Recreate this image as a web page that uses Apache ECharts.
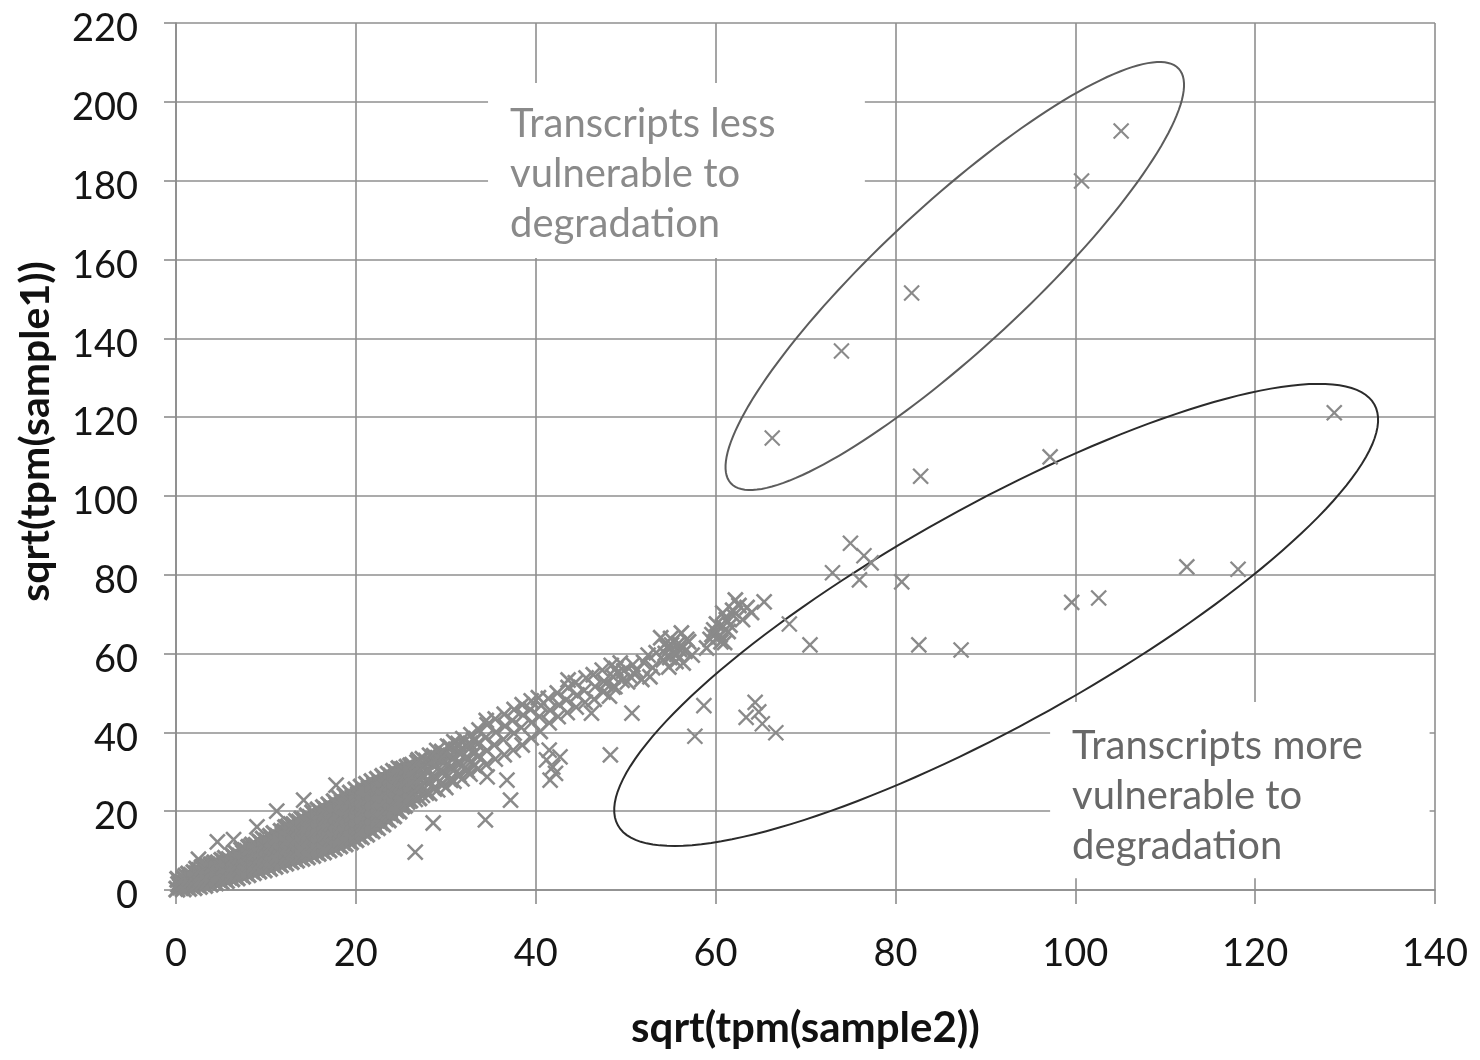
<!DOCTYPE html>
<html><head><meta charset="utf-8">
<script src="https://cdn.jsdelivr.net/npm/echarts@6/dist/echarts.min.js"></script>
<style>html,body{margin:0;padding:0;background:#fff}#c{width:1480px;height:1060px}</style>
</head><body><div id="c"></div>
<script>
const xAxisName = 'sqrt(tpm(sample2))';
const yAxisName = 'sqrt(tpm(sample1))';
const noteLess = 'Transcripts less\nvulnerable to\ndegradation';
const noteMore = 'Transcripts more\nvulnerable to\ndegradation';

// dense core of transcripts (x = sqrt(tpm(sample2)), y = sqrt(tpm(sample1)))
const coreBand = [
[0.1,0.2],[0.3,1.4],[0.2,2.7],
[0.8,0.3],[0.7,1.6],[0.9,2.9],
[1.4,0.4],[1.3,1.7],[1.5,3.0],[1.4,4.0],
[2.0,0.6],[2.1,1.9],[1.9,3.2],[2.0,4.4],
[2.6,0.9],[2.5,2.2],[2.7,3.5],[2.6,4.9],
[3.2,1.2],[3.1,2.5],[3.3,3.8],[3.2,5.2],[3.0,5.8],
[3.8,1.5],[3.9,2.9],[3.7,4.3],[3.8,5.6],[3.9,6.4],
[4.4,1.8],[4.3,3.1],[4.5,4.5],[4.4,5.9],[4.3,6.9],
[5.0,2.1],[5.1,3.5],[4.9,4.9],[5.0,6.3],[5.1,7.5],
[5.6,2.4],[5.5,3.8],[5.7,5.2],[5.6,6.6],[5.5,8.0],
[6.2,2.8],[6.3,4.2],[6.1,5.7],[6.2,7.1],[6.3,8.7],
[6.8,3.1],[6.7,4.6],[6.9,6.0],[6.8,7.5],[6.7,9.3],
[7.4,3.5],[7.5,4.9],[7.3,6.4],[7.4,7.9],[7.5,9.4],[7.3,10.1],
[8.0,3.9],[7.9,5.4],[8.1,6.9],[8.0,8.4],[7.9,9.8],[8.1,10.8],
[8.6,4.4],[8.7,5.8],[8.5,7.3],[8.6,8.8],[8.7,10.3],[8.5,11.4],
[9.2,4.8],[9.1,6.3],[9.3,7.8],[9.2,9.3],[9.1,10.8],[9.3,12.2],
[9.8,5.1],[9.9,6.6],[9.7,8.1],[9.8,9.6],[9.9,11.1],[9.7,12.9],
[10.4,5.5],[10.3,7.0],[10.5,8.6],[10.4,10.1],[10.3,11.6],[10.5,13.6],
[11.0,6.0],[11.1,7.5],[10.9,9.0],[11.0,10.6],[11.1,12.2],[10.9,14.3],
[11.6,6.4],[11.5,7.9],[11.7,9.5],[11.6,11.1],[11.5,12.7],[11.7,14.9],
[12.2,6.8],[12.3,8.4],[12.1,10.0],[12.2,11.6],[12.3,13.2],[12.1,14.8],[12.2,15.8],
[12.8,7.2],[12.7,8.8],[12.9,10.4],[12.8,12.0],[12.7,13.6],[12.9,15.2],[12.8,16.6],
[13.4,7.6],[13.5,9.2],[13.3,10.9],[13.4,12.5],[13.5,14.1],[13.3,15.8],[13.4,17.4],
[14.0,8.0],[13.9,9.6],[14.1,11.3],[14.0,13.0],[13.9,14.7],[14.1,16.4],[14.0,18.0],
[14.6,8.4],[14.7,10.1],[14.5,11.8],[14.6,13.5],[14.7,15.2],[14.5,16.9],[14.6,18.8],
[15.2,8.8],[15.1,10.5],[15.3,12.3],[15.2,14.1],[15.1,15.8],[15.3,17.6],[15.2,19.6],
[15.8,9.3],[15.9,11.0],[15.7,12.8],[15.8,14.6],[15.9,16.4],[15.7,18.2],[15.8,20.3],
[16.4,9.7],[16.3,11.5],[16.5,13.3],[16.4,15.2],[16.3,17.0],[16.5,18.9],[16.4,20.9],
[17.0,10.2],[17.1,12.0],[16.9,13.9],[17.0,15.8],[17.1,17.6],[16.9,19.5],[17.0,21.6],
[17.6,10.6],[17.5,12.5],[17.7,14.4],[17.6,16.3],[17.5,18.2],[17.7,20.1],[17.6,22.4],
[18.2,11.2],[18.3,13.1],[18.1,15.0],[18.2,17.0],[18.3,18.9],[18.1,20.8],[18.2,23.2],
[18.8,11.7],[18.7,13.6],[18.9,15.6],[18.8,17.6],[18.7,19.5],[18.9,21.5],[18.8,23.9],
[19.4,12.2],[19.5,14.2],[19.3,16.2],[19.4,18.2],[19.5,20.2],[19.3,22.2],[19.4,24.6],
[20.0,12.8],[19.9,14.8],[20.1,16.8],[20.0,18.8],[19.9,20.8],[20.1,22.8],[20.0,25.4],
[20.6,13.5],[20.7,15.5],[20.5,17.5],[20.6,19.5],[20.7,21.5],[20.5,23.5],[20.6,26.1],
[21.2,14.2],[21.1,16.2],[21.3,18.2],[21.2,20.2],[21.1,22.3],[21.3,24.4],[21.2,26.8],
[21.8,15.0],[21.9,17.0],[21.7,19.0],[21.8,21.0],[21.9,23.0],[21.7,25.1],[21.8,27.5],
[22.4,15.8],[22.3,17.8],[22.5,19.8],[22.4,21.8],[22.3,23.8],[22.5,25.8],[22.4,28.1],
[23.0,16.7],[23.1,18.7],[22.9,20.7],[23.0,22.7],[23.1,24.7],[22.9,26.7],[23.0,28.8],
[23.6,17.8],[23.5,19.7],[23.7,21.6],[23.6,23.6],[23.5,25.6],[23.7,27.5],[23.6,29.4],
[24.2,18.8],[24.3,20.7],[24.1,22.6],[24.2,24.5],[24.3,26.4],[24.1,28.3],[24.2,30.1],
[24.8,20.0],[24.7,21.8],[24.9,23.7],[24.8,25.5],[24.7,27.4],[24.9,29.3],[24.8,30.8],
[25.4,21.5],[25.5,23.3],[25.3,25.2],[25.4,27.0],[25.5,28.8],[25.3,30.7],
[26.0,22.8],[25.9,24.6],[26.1,26.5],[26.0,28.3],[25.9,30.2],[26.1,31.5]
];

// further transcripts packed between the ones above
const coreFill = [
[0.5,0.8],[0.5,2.0],
[1.1,1.0],[1.1,2.3],[1.1,3.5],
[1.7,1.2],[1.7,2.5],[1.7,3.7],
[2.3,1.4],[2.3,2.8],[2.3,4.1],[2.3,5.3],
[2.9,1.7],[2.9,3.0],[2.9,4.3],[2.9,5.6],
[3.5,2.0],[3.5,3.3],[3.5,4.7],[3.5,6.1],
[4.1,2.3],[4.1,3.7],[4.1,5.1],[4.1,6.4],
[4.7,2.7],[4.7,4.1],[4.7,5.4],[4.7,6.9],
[5.3,3.0],[5.3,4.4],[5.3,5.8],[5.3,7.2],
[5.9,3.3],[5.9,4.8],[5.9,6.2],[5.9,7.7],
[6.5,3.6],[6.5,5.1],[6.5,6.6],[6.5,8.2],
[7.1,4.0],[7.1,5.5],[7.1,7.0],[7.1,8.6],
[7.7,4.4],[7.7,5.9],[7.7,7.4],[7.7,8.9],[7.7,10.0],
[8.3,4.9],[8.3,6.4],[8.3,7.9],[8.3,9.4],[8.3,10.8],
[8.9,5.3],[8.9,6.8],[8.9,8.3],[8.9,9.8],[8.9,11.3],
[9.5,5.7],[9.5,7.2],[9.5,8.7],[9.5,10.2],[9.5,11.8],
[10.1,6.1],[10.1,7.6],[10.1,9.2],[10.1,10.8],[10.1,12.4],
[10.7,6.5],[10.7,8.1],[10.7,9.7],[10.7,11.3],[10.7,13.0],
[11.3,6.9],[11.3,8.5],[11.3,10.1],[11.3,11.8],[11.3,13.6],
[11.9,7.3],[11.9,8.9],[11.9,10.6],[11.9,12.3],[11.9,14.0],
[12.5,7.7],[12.5,9.3],[12.5,11.0],[12.5,12.8],[12.5,14.5],[12.5,16.0],
[13.1,8.1],[13.1,9.8],[13.1,11.5],[13.1,13.2],[13.1,14.9],[13.1,16.6],
[13.7,8.5],[13.7,10.2],[13.7,12.0],[13.7,13.7],[13.7,15.5],[13.7,17.2],
[14.3,8.9],[14.3,10.6],[14.3,12.4],[14.3,14.2],[14.3,16.0],[14.3,17.8],
[14.9,9.3],[14.9,11.1],[14.9,12.9],[14.9,14.7],[14.9,16.5],[14.9,18.4],
[15.5,9.7],[15.5,11.5],[15.5,13.4],[15.5,15.2],[15.5,17.1],[15.5,19.0],
[16.1,10.2],[16.1,12.0],[16.1,13.9],[16.1,15.8],[16.1,17.7],[16.1,19.7],
[16.7,10.6],[16.7,12.5],[16.7,14.4],[16.7,16.3],[16.7,18.3],[16.7,20.3],
[17.3,11.1],[17.3,13.0],[17.3,15.0],[17.3,16.9],[17.3,18.9],[17.3,20.9],
[17.9,11.6],[17.9,13.6],[17.9,15.5],[17.9,17.5],[17.9,19.5],[17.9,21.6],
[18.5,12.1],[18.5,14.1],[18.5,16.1],[18.5,18.1],[18.5,20.1],[18.5,22.2],
[19.1,12.6],[19.1,14.6],[19.1,16.7],[19.1,18.7],[19.1,20.8],[19.1,22.9],
[19.7,13.2],[19.7,15.2],[19.7,17.3],[19.7,19.3],[19.7,21.4],[19.7,23.6],
[20.3,13.8],[20.3,15.9],[20.3,18.0],[20.3,20.0],[20.3,22.1],[20.3,24.2],
[20.9,14.6],[20.9,16.7],[20.9,18.8],[20.9,20.8],[20.9,22.9],[20.9,25.0],
[21.5,15.4],[21.5,17.5],[21.5,19.6],[21.5,21.6],[21.5,23.7],[21.5,25.8],
[22.1,16.2],[22.1,18.3],[22.1,20.3],[22.1,22.3],[22.1,24.4],[22.1,26.5],
[22.7,17.1],[22.7,19.1],[22.7,21.2],[22.7,23.2],[22.7,25.2],[22.7,27.2],
[23.3,18.1],[23.3,20.1],[23.3,22.1],[23.3,24.1],[23.3,26.1],[23.3,28.1],
[23.9,19.1],[23.9,21.0],[23.9,23.0],[23.9,25.0],[23.9,27.0],[23.9,28.9],
[24.5,20.2],[24.5,22.1],[24.5,24.0],[24.5,25.9],[24.5,27.8],[24.5,29.7],
[25.1,21.3],[25.1,23.2],[25.1,25.0],[25.1,26.9],[25.1,28.7],[25.1,30.5],
[25.7,22.5],[25.7,24.3],[25.7,26.1],[25.7,27.9],[25.7,29.6],[25.7,31.2],
[26.3,24.0],[26.3,26.8],[26.3,29.3],[26.3,31.6],
[27.0,23.4],[27.0,25.8],[27.0,28.4],[27.0,30.9],[27.0,32.9],
[27.8,24.8],[27.8,27.6],[27.8,30.2],[27.8,32.7],
[28.7,25.8],[28.7,28.8],[28.7,31.6],[28.7,33.9],
[29.6,27.0],[29.6,30.0],[29.6,32.8],[29.6,35.0],
[30.5,28.0],[30.5,31.2],[30.5,34.0],[30.5,36.2],
[31.4,29.2],[31.4,32.4],[31.4,35.0],[31.4,37.0],
[32.3,30.4],[32.3,33.6],[32.3,36.6],
[33.2,31.6],[33.2,34.8],[33.2,38.0]
];

// sparse spikes just above the core
const coreFringe = [[2.5,7.8],[4.6,12.2],[6.4,12.8],[9.0,16.0],[11.2,20.0],[14.2,22.8],[17.8,26.6]];

// continuation of the diagonal band
const midBand = [
[26.6,23.0],[26.7,25.5],[26.5,28.0],[26.6,30.5],[26.8,32.4],
[27.4,24.0],[27.3,26.6],[27.5,29.1],[27.6,31.6],[27.4,33.3],
[28.2,24.5],[28.3,27.3],[28.1,30.0],[28.3,32.5],[28.2,34.2],
[29.1,25.4],[29.0,28.2],[29.2,31.0],[29.1,33.6],[29.0,35.4],
[30.0,26.0],[29.9,29.0],[30.1,32.0],[30.0,34.6],[30.2,36.5],
[30.9,27.6],[31.0,30.6],[30.8,33.2],[31.1,35.7],[30.9,37.6],
[31.8,28.2],[31.9,31.6],[31.7,34.6],[31.9,38.4],
[32.7,29.4],[32.8,32.6],[32.6,35.8],[32.8,39.4],[32.7,37.2],
[33.6,30.8],[33.7,34.1],[33.5,37.0],[33.7,40.6],
[34.5,31.8],[34.6,35.4],[34.4,38.6],[34.6,41.9],[34.5,43.0],
[35.5,33.2],[35.4,36.8],[35.6,40.1],[35.5,43.4],
[36.5,34.3],[36.4,38.2],[36.6,41.6],[36.5,44.6],
[37.5,35.5],[37.6,39.8],[37.4,43.0],[37.6,45.8],
[38.5,36.8],[38.4,41.2],[38.6,44.4],[38.5,47.0],
[39.5,38.6],[39.6,42.6],[39.4,45.8],[39.5,48.0],
[40.5,40.2],[40.4,44.0],[40.6,46.8],[40.3,48.8],
[41.5,42.4],[41.6,45.6],[41.4,48.6],
[42.5,44.0],[42.6,47.0],[42.4,50.0],
[43.5,45.0],[43.4,48.2],[43.6,51.4],[43.6,53.3],
[44.5,46.4],[44.6,49.5],[44.4,52.6],
[45.5,47.6],[45.4,50.6],[45.6,53.8],
[46.5,48.4],[46.6,51.6],[46.4,54.6],
[47.5,50.2],[47.6,53.0],[47.4,55.8],[47.8,52.4],
[48.2,49.2],[48.6,54.1],[48.4,57.0],[48.8,51.6],[49.1,55.1],[48.9,56.2],
[49.4,57.6],[49.6,53.2],[49.8,55.6],[50.2,52.8],[50.9,55.0],
[50.5,54.2],[50.8,57.2],[51.2,55.6],[52.7,54.1],
[51.8,53.4],[52.0,57.8],[52.5,59.6],
[53.0,56.4],[53.4,60.2],[53.9,64.0],
[54.2,58.4],[54.6,61.6],[54.8,56.6],[55.0,63.8],[55.3,60.2],[55.6,58.0],[55.9,62.6],[56.2,65.2],[56.4,57.6],[56.6,60.6],[57.0,63.0],[57.4,59.6],
[54.4,60.0],[55.1,62.2],[55.7,59.8],[56.0,61.0],[56.8,63.6],[54.9,59.0],
[59.0,61.4],[59.4,63.6],[59.8,66.0],[60.3,64.2],[60.5,64.7],[60.8,66.8],[61.2,68.6],[61.6,67.2],[61.0,62.8],[62.0,69.6],[60.8,70.3],
[60.1,67.5],[61.4,65.6],[60.6,63.0],[59.6,64.8],[61.9,71.0],[63.0,68.6],[62.6,72.2],[64.0,70.4],
[62.2,73.6],[63.5,71.7],[65.4,73.1]
];

// points below the band outside the ellipses
const belowBand = [
[26.6,9.6],[28.6,17.0],[34.4,17.8],[37.2,22.8],[34.6,28.7],[36.8,27.9],
[41.5,35.5],[41.9,31.2],[41.6,27.9],[42.7,33.8],[42.2,29.6],[41.2,33.0],
[48.3,34.3],[46.2,44.9],[50.7,44.9],[48.6,51.5]
];

// transcripts more vulnerable to degradation (lower-right group)
const moreVulnerable = [
[57.7,39.0],[58.7,46.8],[64.4,47.6],[63.4,43.8],[65.2,42.2],[66.7,39.9],[64.8,45.2],
[68.2,67.5],[70.5,62.2],[73.0,80.5],[75.0,88.0],[76.5,84.8],[77.3,83.0],[76.0,78.7],[80.7,78.2],
[82.6,62.2],[87.3,60.9],[99.6,73.0],[102.6,74.1],[112.4,82.0],[118.1,81.4],[128.8,121.1],
[97.2,109.9],[82.8,105.0]
];

// transcripts less vulnerable to degradation (upper group)
const lessVulnerable = [[105.1,192.6],[100.7,179.9],[81.8,151.5],[74.0,136.8],[66.3,114.7]];

const FONT = 'Lato, "Open Sans", sans-serif';
const MARK = '#8a8a8a';
const SOLID_LIMIT = 26.2; // where overlapping markers merge into a solid mass

// "x" markers drawn through the cartesian coordinate system
function crossSeries(name, data, lineWidth, half, blob) {
  return {
    name, type: 'custom', data, z: 4, silent: true, clip: false,
    encode: {x: 0, y: 1},
    renderItem(params, api) {
      const p = api.coord([api.value(0), api.value(1)]);
      const st = {stroke: MARK, lineWidth, lineCap: 'butt'};
      const children = [
        {type: 'line', shape: {x1: p[0] - half, y1: p[1] - half, x2: p[0] + half, y2: p[1] + half}, style: st},
        {type: 'line', shape: {x1: p[0] - half, y1: p[1] + half, x2: p[0] + half, y2: p[1] - half}, style: st}
      ];
      if (blob && api.value(0) <= SOLID_LIMIT) {
        children.push({type: 'rect', shape: {x: p[0] - blob, y: p[1] - blob, width: 2 * blob, height: 2 * blob},
                       style: {fill: MARK}});
      }
      return {type: 'group', children};
    }
  };
}

const chart = echarts.init(document.getElementById('c'), null, {renderer: 'canvas'});
const notes = [noteLess, noteMore];
const noteColors = ['#8a8a8a', '#686868'];
const noteTextOffset = [16, 19];

chart.setOption({
  animation: false,
  backgroundColor: '#fff',
  grid: {left: 176, right: 45, top: 23, bottom: 170},
  xAxis: {
    type: 'value', min: 0, max: 140, interval: 20,
    name: xAxisName, nameLocation: 'middle', nameGap: 117,
    nameTextStyle: {fontFamily: FONT, fontWeight: 'bold', fontSize: 42, color: '#111'},
    axisLine: {show: true, lineStyle: {color: '#8c8c8c', width: 1.6}},
    axisTick: {show: true, length: 14, lineStyle: {color: '#8c8c8c', width: 1.6}},
    axisLabel: {fontFamily: FONT, fontSize: 38, color: '#151515', margin: 45},
    splitLine: {show: true, lineStyle: {color: '#8f8f8f', width: 1.6}}
  },
  yAxis: {
    type: 'value', min: 0, max: 220, interval: 20,
    name: yAxisName, nameLocation: 'middle', nameGap: 120,
    nameTextStyle: {fontFamily: FONT, fontWeight: 'bold', fontSize: 41, color: '#111', padding: [0, 0, 0, 50]},
    axisLine: {show: true, lineStyle: {color: '#8c8c8c', width: 1.6}},
    axisTick: {show: true, length: 12, lineStyle: {color: '#8c8c8c', width: 1.6}},
    axisLabel: {
      margin: 38, formatter: '{v|{value}}',
      rich: {v: {fontFamily: FONT, fontSize: 38, color: '#151515', padding: [12, 0, 0, 0]}}
    },
    splitLine: {show: true, lineStyle: {color: '#8f8f8f', width: 1.6}}
  },
  series: [
    {
      // white annotation boxes with their text, anchored in data space
      type: 'custom', name: 'notes', z: 1, silent: true, clip: false,
      encode: {x: [0, 2], y: [1, 3]},
      data: [[34.7, 204.8, 76.6, 160.4, 0], [97.2, 47.7, 139.4, 3.0, 1]],
      renderItem(params, api) {
        const p1 = api.coord([api.value(0), api.value(1)]);
        const p2 = api.coord([api.value(2), api.value(3)]);
        const i = api.value(4);
        return {
          type: 'group',
          children: [
            {type: 'rect', shape: {x: p1[0], y: p1[1], width: p2[0] - p1[0], height: p2[1] - p1[1]},
             style: {fill: '#fff'}},
            {type: 'text', x: p1[0] + 22, y: p1[1] + noteTextOffset[i],
             style: {text: notes[i], fill: noteColors[i], font: '40px ' + FONT, lineHeight: 50,
                     verticalAlign: 'top', align: 'left'}}
          ]
        };
      }
    },
    {
      // hand-drawn ellipses: centre and two conjugate half-axes in data units
      type: 'custom', name: 'ellipses', z: 3, silent: true, clip: false,
      encode: {x: 0, y: 1},
      data: [[86.6, 155.8, 24.9, 52.6, 5.47, -13.5, 0], [91.2, 69.8, 42.06, 53.4, 5.91, -24.2, 1]],
      renderItem(params, api) {
        const cx = api.value(0), cy = api.value(1);
        const ux = api.value(2), uy = api.value(3), vx = api.value(4), vy = api.value(5);
        const pts = [];
        const n = 160;
        for (let k = 0; k <= n; k++) {
          const t = k / n * Math.PI * 2;
          pts.push(api.coord([cx + ux * Math.cos(t) + vx * Math.sin(t), cy + uy * Math.cos(t) + vy * Math.sin(t)]));
        }
        return {type: 'polyline', shape: {points: pts},
                style: {stroke: api.value(6) ? '#2b2b2b' : '#5c5c5c', lineWidth: 2, fill: null}};
      }
    },
    crossSeries('core', coreBand, 3.2, 8, 4.5),
    crossSeries('coreFill', coreFill, 3.2, 8, 4.5),
    crossSeries('fringe', coreFringe, 2.6, 7.5),
    crossSeries('band', midBand, 2.7, 7.5),
    crossSeries('below', belowBand, 2.5, 7.5),
    crossSeries('more', moreVulnerable, 2.3, 7.5),
    crossSeries('less', lessVulnerable, 2.1, 7.5)
  ]
});
</script>
</body></html>
